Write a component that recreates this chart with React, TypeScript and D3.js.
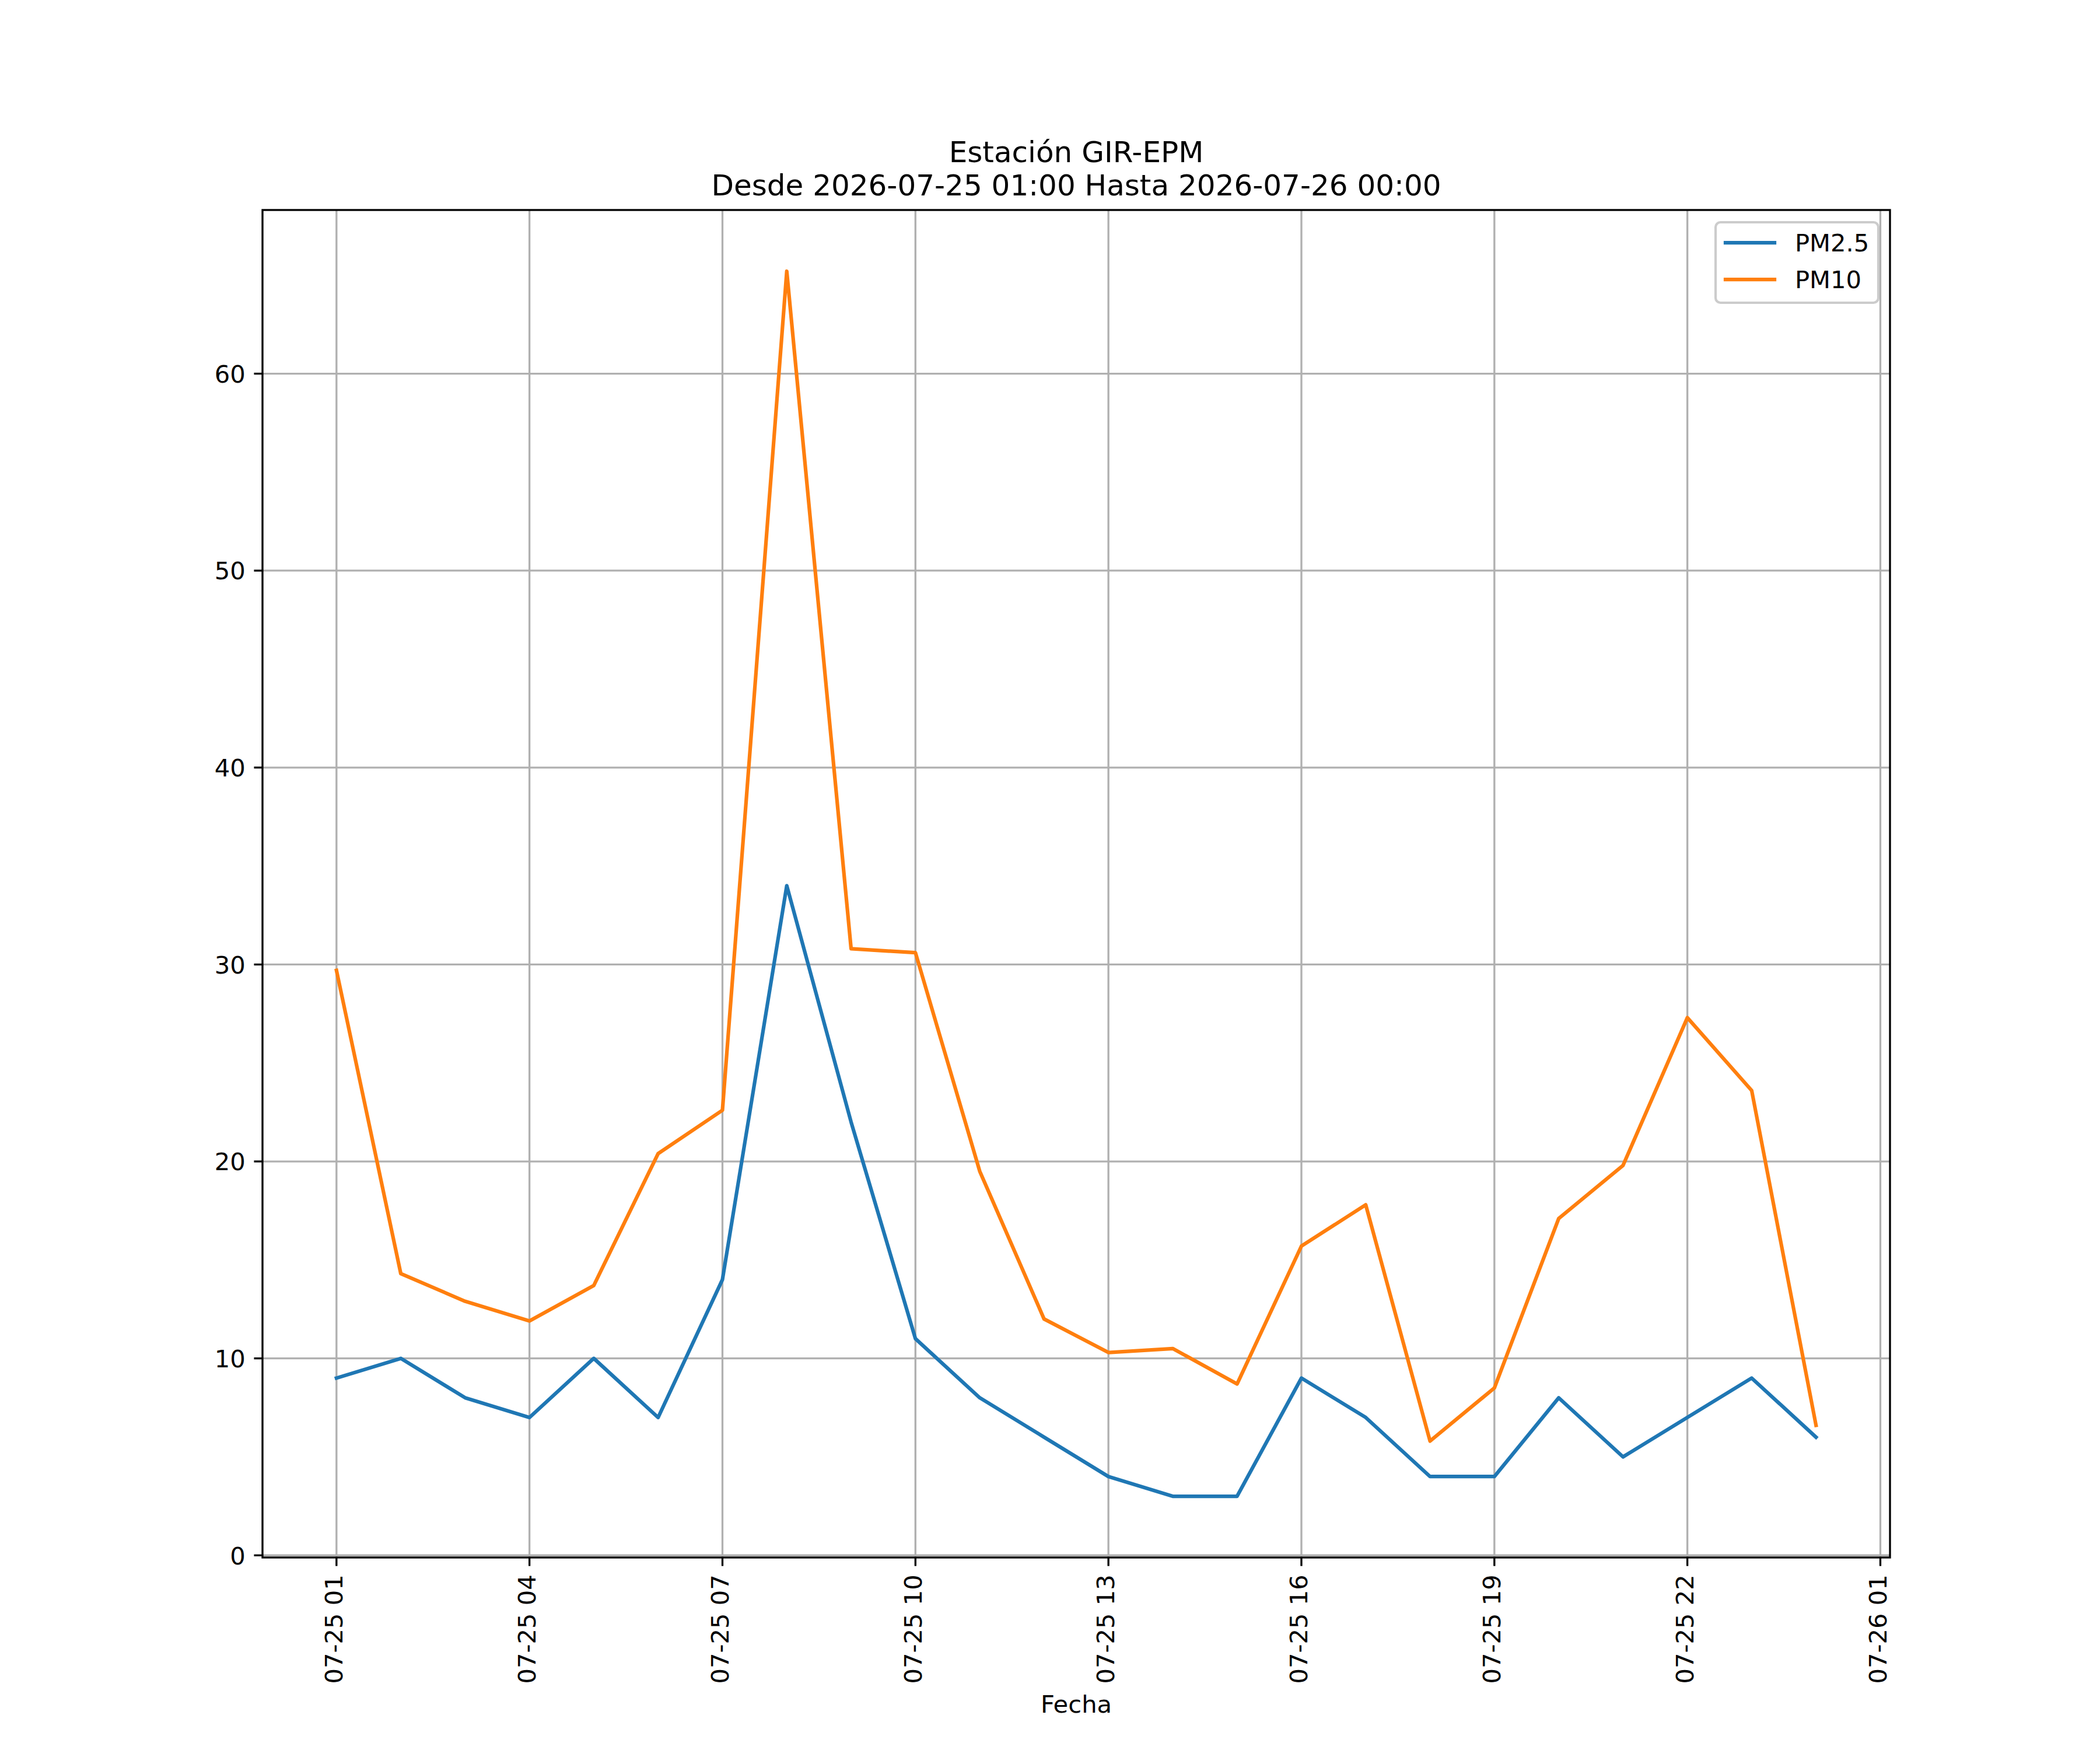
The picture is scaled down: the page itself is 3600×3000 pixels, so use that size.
import React from "react";
import * as d3 from "d3";

// ---- data ----
const hours: number[] = [1, 2, 3, 4, 5, 6, 7, 8, 9, 10, 11, 12, 13, 14, 15, 16, 17, 18, 19, 20, 21, 22, 23, 24];
const pm25: number[] = [9, 10, 8, 7, 10, 7, 14, 34, 22, 11, 8, 6, 4, 3, 3, 9, 7, 4, 4, 8, 5, 7, 9, 6];
const pm10: number[] = [29.7, 14.3, 12.9, 11.9, 13.7, 20.4, 22.6, 65.2, 30.8, 30.6, 19.5, 12.0, 10.3, 10.5, 8.7, 15.7, 17.8, 5.8, 8.5, 17.1, 19.8, 27.3, 23.6, 6.6];
const yTicks: number[] = [0, 10, 20, 30, 40, 50, 60];
const xTickHours: number[] = [1, 4, 7, 10, 13, 16, 19, 22, 25];
const seriesNames: string[] = ["PM2.5", "PM10"];
const seriesColors: string[] = ["#1f77b4", "#ff7f0e"];
const titleLines: string[] = ["Estación GIR-EPM", "Desde 2026-07-25 01:00 Hasta 2026-07-26 00:00"];
const xLabel = "Fecha";

const base = Date.UTC(2026, 6, 25, 0, 0, 0);
const toDate = (h: number) => new Date(base + h * 3600 * 1000);

export default function App() {
  const W = 3600, H = 3000;
  const L = 450, R = 3240, T = 360, B = 2670;
  const font = "DejaVu Sans";

  const allVals = [...pm25, ...pm10];
  const yMin = d3.min(allVals)!, yMax = d3.max(allVals)!;
  const ym = (yMax - yMin) * 0.05;
  const xMinH = d3.min(hours)!, xMaxH = d3.max(hours)!;
  const xm = (xMaxH - xMinH) * 0.05;

  const x = d3.scaleUtc().domain([toDate(xMinH - xm), toDate(xMaxH + xm)]).range([L, R]);
  const y = d3.scaleLinear().domain([yMin - ym, yMax + ym]).range([B, T]);

  const xTicks = xTickHours.map(toDate);
  const fmt = d3.utcFormat("%m-%d %H");

  const line = d3
    .line<number>()
    .x((_, i) => x(toDate(hours[i])))
    .y((v) => y(v));

  const series = [pm25, pm10];
  const lw = 6.25;
  const gridW = 3.33;
  const tickLen = 14.58;

  const legX = 2941, legY = 381, legW = 279, legH = 138;

  return (
    <svg
      width={W}
      height={H}
      viewBox={`0 0 ${W} ${H}`}
      style={{ position: "absolute", left: 0, top: 0, background: "#fff" }}
      fontFamily={font}
    >
      <rect x={0} y={0} width={W} height={H} fill="#fff" />
      {/* grid */}
      <g stroke="#b0b0b0" strokeWidth={gridW}>
        {xTicks.map((t, i) => (
          <line key={"gx" + i} x1={x(t)} x2={x(t)} y1={T} y2={B} />
        ))}
        {yTicks.map((t, i) => (
          <line key={"gy" + i} x1={L} x2={R} y1={y(t)} y2={y(t)} />
        ))}
      </g>
      {/* series */}
      <defs>
        <clipPath id="clip">
          <rect x={L} y={T} width={R - L} height={B - T} />
        </clipPath>
      </defs>
      <g clipPath="url(#clip)">
        {series.map((s, i) => (
          <path
            key={"s" + i}
            d={line(s) || ""}
            fill="none"
            stroke={seriesColors[i]}
            strokeWidth={lw}
            strokeLinejoin="round"
            strokeLinecap="square"
          />
        ))}
      </g>
      {/* spines */}
      <rect x={L} y={T} width={R - L} height={B - T} fill="none" stroke="#000" strokeWidth={3.33} strokeLinejoin="miter" />
      {/* y ticks */}
      {yTicks.map((t, i) => (
        <g key={"yt" + i}>
          <line x1={L - tickLen} x2={L} y1={y(t)} y2={y(t)} stroke="#000" strokeWidth={3.33} />
          <text x={L - tickLen - 14.58} y={y(t) + 15.3} textAnchor="end" fontSize={41.67} fill="#000">
            {String(t)}
          </text>
        </g>
      ))}
      {/* x ticks */}
      {xTicks.map((t, i) => (
        <g key={"xt" + i}>
          <line x1={x(t)} x2={x(t)} y1={B} y2={B + tickLen} stroke="#000" strokeWidth={3.33} />
          <g transform={`translate(${x(t)},${B + tickLen + 14.58}) rotate(-90)`}>
            <text x={0} y={10.2} textAnchor="end" fontSize={41.67} fill="#000">
              {fmt(t)}
            </text>
          </g>
        </g>
      ))}
      {/* x label */}
      <text x={(L + R) / 2} y={2936} textAnchor="middle" fontSize={41.67} fill="#000">
        {xLabel}
      </text>
      {/* title */}
      <text x={(L + R) / 2} y={T - 25 - 57} textAnchor="middle" fontSize={50} fill="#000">
        {titleLines[0]}
      </text>
      <text x={(L + R) / 2} y={T - 25} textAnchor="middle" fontSize={50} fill="#000">
        {titleLines[1]}
      </text>
      {/* legend */}
      <rect
        x={legX}
        y={legY}
        width={legW}
        height={legH}
        rx={8.3}
        ry={8.3}
        fill="#fff"
        fillOpacity={0.8}
        stroke="#cccccc"
        strokeWidth={4.17}
      />
      {seriesNames.map((n, i) => {
        const cy = 416 + i * 63;
        return (
          <g key={"lg" + i}>
            <line x1={2958} x2={3042} y1={cy} y2={cy} stroke={seriesColors[i]} strokeWidth={lw} strokeLinecap="square" />
            <text x={3077} y={cy + 15} fontSize={41.67} fill="#000">
              {n}
            </text>
          </g>
        );
      })}
    </svg>
  );
}
